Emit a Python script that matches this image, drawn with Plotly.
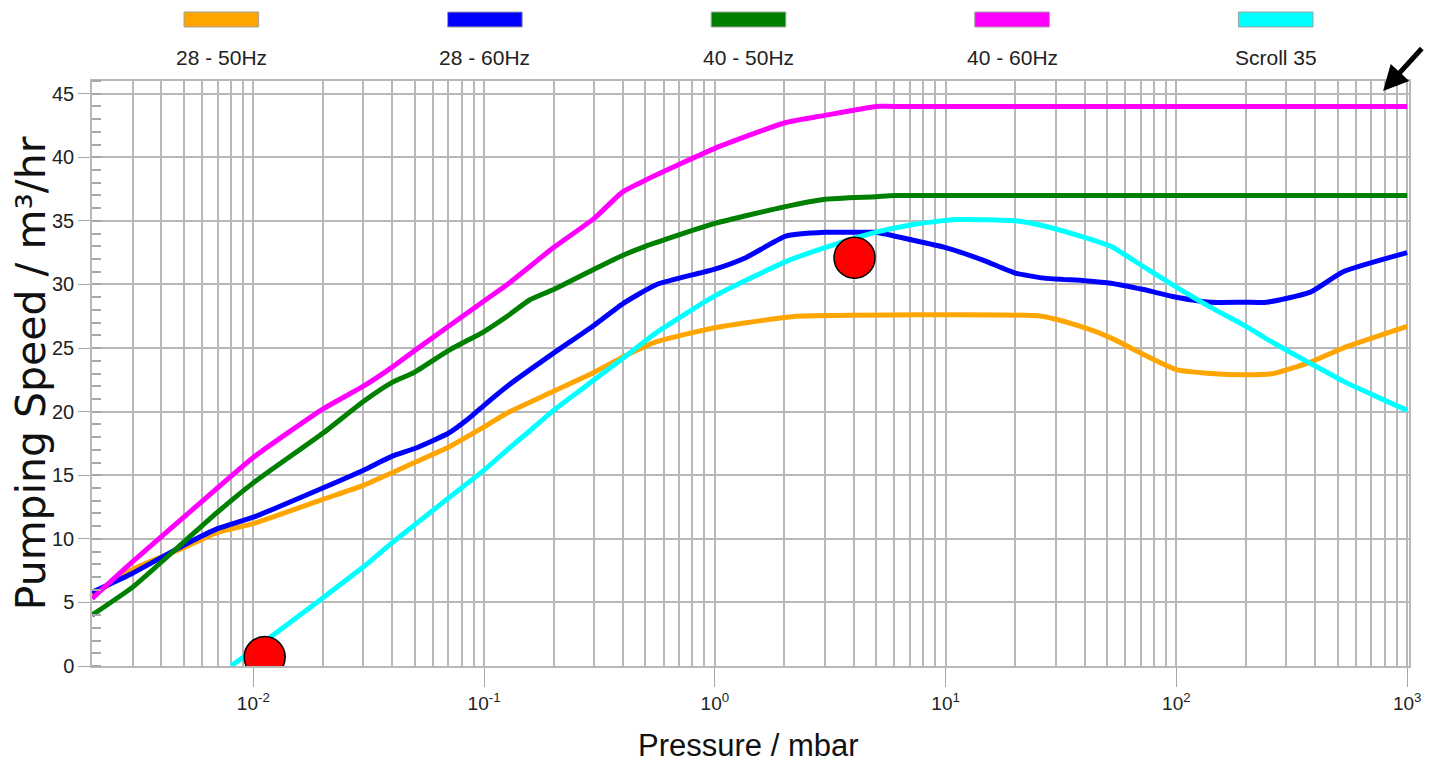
import plotly.graph_objects as go
import numpy as np

# ---------------- data ----------------
series_names = ["28 - 50Hz", "28 - 60Hz", "40 - 50Hz", "40 - 60Hz", "Scroll 35"]
series_colors = ["#FFA500", "#0000FF", "#008000", "#FF00FF", "#00FFFF"]

p_28_50 = [0.002, 0.003, 0.005, 0.007, 0.01, 0.02, 0.03, 0.04, 0.05, 0.07, 0.1, 0.126, 0.2, 0.3, 0.4,
           0.56, 1.0, 2.0, 2.24, 26, 40, 52, 72, 100, 141, 196, 264, 381, 528, 1000]
s_28_50 = [5.5, 7.6, 9.3, 10.5, 11.2, 13.1, 14.2, 15.2, 16.0, 17.2, 18.8, 19.9, 21.6, 23.1, 24.3,
           25.5, 26.6, 27.4, 27.5, 27.5, 26.6, 25.8, 24.5, 23.3, 23.0, 22.9, 23.0, 23.9, 25.0, 26.7]

p_28_60 = [0.002, 0.003, 0.005, 0.007, 0.01, 0.02, 0.03, 0.04, 0.05, 0.07, 0.085, 0.1, 0.126, 0.2, 0.3,
           0.4, 0.56, 1.0, 1.36, 2.03, 3.0, 4.06, 4.96, 7.16, 10, 14.6, 20, 26.8, 40, 52, 72, 100,
           141, 196, 246, 381, 528, 1000]
s_28_60 = [5.8, 7.3, 9.5, 10.8, 11.7, 14.0, 15.4, 16.5, 17.1, 18.3, 19.4, 20.5, 22.0, 24.6, 26.8,
           28.5, 30.0, 31.2, 32.1, 33.8, 34.1, 34.1, 34.1, 33.5, 32.9, 31.9, 30.9, 30.5, 30.3, 30.1,
           29.6, 29.0, 28.6, 28.6, 28.6, 29.4, 31.0, 32.5]

p_40_50 = [0.002, 0.003, 0.005, 0.007, 0.01, 0.02, 0.03, 0.04, 0.05, 0.07, 0.1, 0.126, 0.158, 0.2,
           0.3, 0.4, 0.5, 1.0, 2.0, 3.0, 5.0, 6.0, 1000]
s_40_50 = [4.0, 6.2, 9.75, 12.1, 14.4, 18.3, 20.8, 22.3, 23.1, 24.8, 26.3, 27.5, 28.8, 29.6,
           31.2, 32.3, 33.0, 34.8, 36.1, 36.7, 36.9, 37.0, 37.0]

p_40_60 = [0.002, 0.003, 0.005, 0.01, 0.02, 0.03, 0.04, 0.05, 0.1, 0.126, 0.2, 0.3, 0.4, 0.5,
           1.0, 2.0, 3.0, 5.0, 5.9, 1000]
s_40_60 = [5.3, 8.2, 11.7, 16.4, 20.2, 22.0, 23.5, 24.8, 28.7, 30.0, 32.9, 35.2, 37.3, 38.2,
           40.7, 42.7, 43.3, 44.0, 44.0, 44.0]

p_scroll = [0.008, 0.01, 0.02, 0.03, 0.04, 0.05, 0.07, 0.1, 0.126, 0.158, 0.2, 0.3, 0.4, 0.557,
            1.0, 2.03, 3.0, 4.96, 7.16, 11, 20.5, 26.8, 40, 52, 72, 100, 141, 196, 264, 381,
            528, 733, 1000]
s_scroll = [0.0, 1.26, 5.35, 7.8, 9.7, 11.1, 13.2, 15.4, 17.0, 18.5, 20.1, 22.5, 24.2, 26.2,
            29.1, 31.8, 32.9, 34.1, 34.7, 35.1, 35.0, 34.6, 33.7, 33.0, 31.4, 29.8, 28.2, 26.8,
            25.4, 23.8, 22.4, 21.2, 20.1]

marker_p = [0.0112, 4.03]
marker_s = [0.7, 32.1]

x_tick_vals = [0.01, 0.1, 1, 10, 100, 1000]
x_tick_text = ["10<sup>-2</sup>", "10<sup>-1</sup>", "10<sup>0</sup>", "10<sup>1</sup>",
               "10<sup>2</sup>", "10<sup>3</sup>"]
x_minor_vals = [m * 10.0 ** e for e in range(-3, 3) for m in range(2, 10) if m * 10.0 ** e >= 0.002]

# ---------------- figure ----------------
W, H = 1433, 767
L, R, T, B = 92, 17, 81, 101
PW, PH = W - L - R, H - T - B

def px(xp):
    return (xp - L) / PW

def py(yp):
    return (H - B - yp) / PH

NARROW = "Liberation Sans Narrow, Arial Narrow, Liberation Sans, Arial, sans-serif"
GRID = "#b8b8b8"

fig = go.Figure()
all_p = [p_28_50, p_28_60, p_40_50, p_40_60, p_scroll]
all_s = [s_28_50, s_28_60, s_40_50, s_40_60, s_scroll]
for name, col, pp, ss in zip(series_names, series_colors, all_p, all_s):
    fig.add_trace(go.Scatter(x=pp, y=ss, mode="lines", name=name,
                             line=dict(color=col, width=5, shape="spline", smoothing=0.5)))

fig.add_trace(go.Scatter(x=marker_p, y=marker_s, mode="markers", showlegend=False,
                         marker=dict(size=41, color="#FF0000",
                                     line=dict(color="black", width=1.5))))

fig.update_layout(
    width=W, height=H, autosize=False,
    margin=dict(l=L, r=R, t=T, b=B),
    plot_bgcolor="white", paper_bgcolor="white",
    showlegend=False,
    font=dict(family=NARROW, color="#222222", size=20),
)

fig.update_xaxes(
    type="log", range=[np.log10(0.002), 3.008],
    tickmode="array", tickvals=x_tick_vals, ticktext=x_tick_text,
    ticks="outside", ticklen=19, tickcolor="#a8a8a8", tickwidth=1,
    tickfont=dict(family=NARROW, size=19, color="#222222"),
    ticklabeloverflow="allow",
    showgrid=True, gridcolor=GRID, gridwidth=1.5,
    minor=dict(tickmode="array", tickvals=x_minor_vals, showgrid=True,
               gridcolor=GRID, gridwidth=1.5, ticks=""),
    showline=True, mirror=True, linecolor=GRID, linewidth=1.5,
    zeroline=False,
)
fig.update_yaxes(
    range=[0, 46], tickmode="linear", tick0=0, dtick=5,
    ticks="outside", ticklen=12, tickcolor="#a8a8a8", tickwidth=1,
    tickfont=dict(family=NARROW, size=20, color="#222222"),
    showgrid=True, gridcolor=GRID, gridwidth=1.5,
    minor=dict(tickmode="linear", tick0=0, dtick=1, ticks="inside", ticklen=9,
               tickcolor="#a8a8a8", tickwidth=1.5, showgrid=False),
    showline=True, mirror=True, linecolor=GRID, linewidth=1.5,
    zeroline=False,
)

# axis titles
annotations = [
    dict(text="Pressure / mbar", xref="paper", yref="paper", x=px(752), y=py(745),
         showarrow=False, font=dict(family=NARROW, size=31, color="#111111"),
         xanchor="center", yanchor="middle"),
    dict(text="Pumping Speed / m\u00b3/hr", xref="paper", yref="paper", x=px(31), y=py(373),
         showarrow=False, textangle=-90,
         font=dict(family="DejaVu Sans, Arial, sans-serif", size=41, color="#111111"),
         xanchor="center", yanchor="middle"),
    # pointer arrow at top right
    dict(text="", xref="paper", yref="paper", x=px(1390), y=py(91),
         showarrow=True, ax=40, ay=-44, arrowhead=2, arrowsize=1.0, arrowwidth=5,
         arrowcolor="black"),
]

# custom legend (swatch above label)
legend_centers = [222, 487, 752, 1017, 1282]
shapes = []
for name, col, cx in zip(series_names, series_colors, legend_centers):
    shapes.append(dict(type="rect", xref="paper", yref="paper",
                       x0=px(cx - 37.5), x1=px(cx + 37.5), y0=py(27), y1=py(12),
                       fillcolor=col, line=dict(color="#a0a0a0", width=1)))
    annotations.append(dict(text=name, xref="paper", yref="paper", x=px(cx), y=py(58),
                            showarrow=False, xanchor="center", yanchor="middle",
                            font=dict(family=NARROW, size=21, color="#222222")))

fig.update_layout(annotations=annotations, shapes=shapes)

page_js = (
    "document.documentElement.style.overflow='hidden';"
    "document.body.style.margin='0px';"
    "document.body.style.overflow='hidden';"
    "document.querySelectorAll('.svg-container, svg.main-svg').forEach(function(e){e.style.overflow='hidden';});"
)
fig.write_html("out.html", config={"displayModeBar": False, "responsive": False},
               default_width="1433px", default_height="767px",
               post_script=page_js)
